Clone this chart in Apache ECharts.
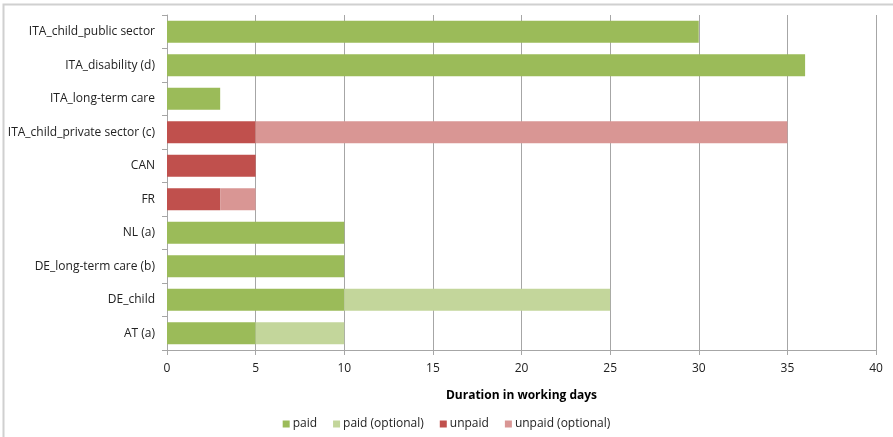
<!DOCTYPE html>
<html>
<head>
<meta charset="utf-8">
<script src="https://cdn.jsdelivr.net/npm/echarts@6/dist/echarts.min.js"></script>
<style>
  html, body { margin: 0; padding: 0; background: #fff; }
  #chart { width: 893px; height: 437px; }
</style>
</head>
<body>
<div id="chart"></div>
<script>
// categories listed bottom to top (category axis on y starts at the bottom)
const categories = [
  "AT (a)",
  "DE_child",
  "DE_long-term care (b)",
  "NL (a)",
  "FR",
  "CAN",
  "ITA_child_private sector (c)",
  "ITA_long-term care",
  "ITA_disability (d)",
  "ITA_child_public sector"
];
const paid = [5, 10, 10, 10, 0, 0, 0, 3, 36, 30];
const paidOptional = [5, 15, 0, 0, 0, 0, 0, 0, 0, 0];
const unpaid = [0, 0, 0, 0, 3, 5, 5, 0, 0, 0];
const unpaidOptional = [0, 0, 0, 0, 2, 0, 30, 0, 0, 0];

const font = "'Open Sans', 'Liberation Sans', sans-serif";

const chart = echarts.init(document.getElementById("chart"));

function bar(name, data, color) {
  return {
    name: name,
    type: "bar",
    stack: "total",
    barCategoryGap: "34%",
    data: data.map(v => (v === 0 ? null : v)),
    itemStyle: { color: color },
    emphasis: { disabled: true }
  };
}

const option = {
  animation: false,
  textStyle: { fontFamily: font },
  graphic: [
    {
      type: "rect",
      shape: { x: 3.5, y: 4.5, width: 900, height: 450 },
      style: { fill: "none", stroke: "#d0d0d0", lineWidth: 2 },
      silent: true
    }
  ],
  grid: { left: 167, right: 17, top: 15, bottom: 87 },
  xAxis: {
    type: "value",
    min: 0,
    max: 40,
    interval: 5,
    name: "Duration in working days",
    nameLocation: "middle",
    nameGap: 40,
    nameTextStyle: { fontWeight: "bold", fontSize: 12, color: "#000", fontFamily: font },
    axisLine: { show: true, lineStyle: { color: "#a6a6a6", width: 1 } },
    axisTick: { show: true, length: 5, lineStyle: { color: "#a6a6a6" } },
    axisLabel: { color: "#222", fontSize: 12, margin: 13, fontFamily: font },
    splitLine: { show: true, lineStyle: { color: "#a6a6a6", width: 1 } }
  },
  yAxis: {
    type: "category",
    data: categories,
    axisLine: { show: true, lineStyle: { color: "#a6a6a6", width: 1 } },
    axisTick: { show: true, length: 5, lineStyle: { color: "#a6a6a6" } },
    axisLabel: { color: "#222", fontSize: 12, margin: 12, fontFamily: font },
    splitLine: { show: false }
  },
  legend: {
    bottom: 2,
    left: "center",
    itemWidth: 7,
    itemHeight: 7,
    itemGap: 16,
    icon: "rect",
    textStyle: { fontSize: 12, color: "#222", fontFamily: font, padding: [0, 0, 0, -2] },
    data: ["paid", "paid (optional)", "unpaid", "unpaid (optional)"]
  },
  series: [
    bar("paid", paid, "#9bbb59"),
    bar("paid (optional)", paidOptional, "#c3d69b"),
    bar("unpaid", unpaid, "#c0504d"),
    bar("unpaid (optional)", unpaidOptional, "#d99694")
  ]
};

chart.setOption(option);
</script>
</body>
</html>
